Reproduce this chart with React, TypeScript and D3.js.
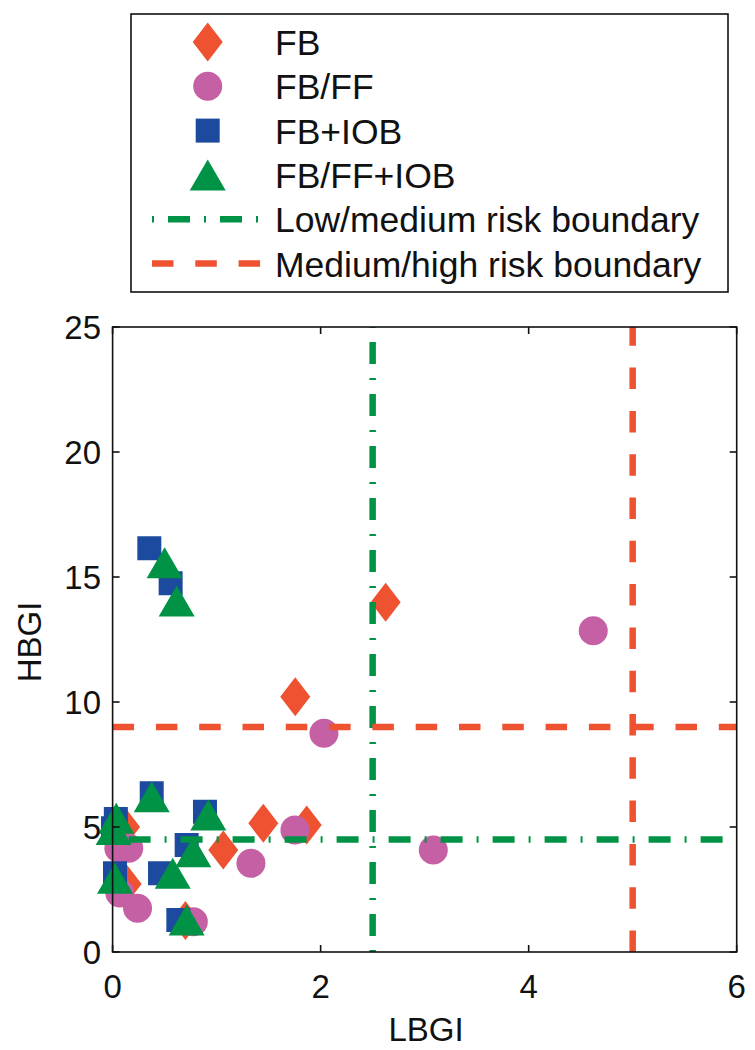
import React from "react";
import * as d3 from "d3";

// ---- Data ----
const fbX = [0.12, 0.135, 0.70, 1.064, 1.449, 1.866, 1.756, 2.625];
const fbY = [5.0, 2.72, 1.26, 4.08, 5.15, 5.08, 10.21, 13.99];

const ffX = [0.06, 0.155, 0.07, 0.24, 0.776, 1.33, 1.753, 2.032, 3.083, 4.621];
const ffY = [4.15, 4.15, 2.36, 1.75, 1.21, 3.55, 4.88, 8.75, 4.08, 12.85];

const iobX = [0.353, 0.558, 0.376, 0.031, 0.004, 0.888, 0.712, 0.023, 0.456, 0.632];
const iobY = [16.15, 14.75, 6.35, 5.32, 4.95, 5.61, 4.28, 3.15, 3.15, 1.28];

const ffiobX = [0.50, 0.616, 0.376, 0.035, 0.01, 0.92, 0.776, 0.023, 0.578, 0.712];
const ffiobY = [15.57, 14.04, 6.21, 5.35, 4.9, 5.48, 4.01, 2.95, 3.15, 1.28];

const lowMedLBGI = 2.5;
const lowMedHBGI = 4.5;
const medHighLBGI = 5;
const medHighHBGI = 9;

const xTicks = [0, 2, 4, 6];
const yTicks = [0, 5, 10, 15, 20, 25];

const legendLabels = [
  "FB",
  "FB/FF",
  "FB+IOB",
  "FB/FF+IOB",
  "Low/medium risk boundary",
  "Medium/high risk boundary",
];

const ORANGE = "#EE5230";
const PINK = "#C560A4";
const BLUE = "#1B4A9E";
const GREEN = "#009245";
const FONT = "'Liberation Sans', Arial, Helvetica, sans-serif";

const GREEN_DASH = "2,14,22,14";
const ORANGE_DASH = "21.5,21.8";

function diamondPath(cx: number, cy: number) {
  const w = 15, h = 19.5;
  return `M${cx},${cy - h}L${cx + w},${cy}L${cx},${cy + h}L${cx - w},${cy}Z`;
}
function trianglePath(cx: number, cy: number) {
  const w = 18, h = 15.5;
  return `M${cx},${cy - h}L${cx + w},${cy + h}L${cx - w},${cy + h}Z`;
}
function squarePath(cx: number, cy: number) {
  const s = 12;
  return `M${cx - s},${cy - s}h${2 * s}v${2 * s}h${-2 * s}Z`;
}

export default function App() {
  const x = d3.scaleLinear().domain([0, 6]).range([112.6, 736.7]);
  const y = d3.scaleLinear().domain([0, 25]).range([952, 327]);
  const [x0, x1] = x.range();
  const [y0, y1] = y.range();

  const legendY = (i: number) => 42 + 44.3 * i;
  const legMX = 207.7;

  return (
    <svg
      width={755}
      height={1050}
      style={{ position: "absolute", left: 0, top: 0, background: "#fff" }}
      fontFamily={FONT}
    >
      <rect x={0} y={0} width={755} height={1050} fill="#fff" />

      {/* markers */}
      <g>
        {fbX.map((v, i) => (
          <path key={"fb" + i} d={diamondPath(x(v), y(fbY[i]))} fill={ORANGE} />
        ))}
        {ffX.map((v, i) => (
          <circle key={"ff" + i} cx={x(v)} cy={y(ffY[i])} r={14.5} fill={PINK} />
        ))}
        {iobX.map((v, i) => (
          <path key={"iob" + i} d={squarePath(x(v), y(iobY[i]))} fill={BLUE} />
        ))}
        {ffiobX.map((v, i) => (
          <path key={"ffiob" + i} d={trianglePath(x(v), y(ffiobY[i]))} fill={GREEN} />
        ))}
      </g>

      {/* boundary lines */}
      <g fill="none" strokeWidth={6.5}>
        <line x1={x(lowMedLBGI)} x2={x(lowMedLBGI)} y1={y(0)} y2={y(25)} stroke={GREEN} strokeDasharray={GREEN_DASH} />
        <line x1={x(0)} x2={x(6)} y1={y(lowMedHBGI)} y2={y(lowMedHBGI)} stroke={GREEN} strokeDasharray={GREEN_DASH} />
        <line x1={x(medHighLBGI)} x2={x(medHighLBGI)} y1={y(0)} y2={y(25)} stroke={ORANGE} strokeDasharray={ORANGE_DASH} />
        <line x1={x(0)} x2={x(6)} y1={y(medHighHBGI)} y2={y(medHighHBGI)} stroke={ORANGE} strokeDasharray={ORANGE_DASH} />
      </g>

      {/* axes box */}
      <rect x={x0} y={y1} width={x1 - x0} height={y0 - y1} fill="none" stroke="#111" strokeWidth={1.6} />
      {xTicks.map((t) => (
        <g key={"xt" + t}>
          <line x1={x(t)} x2={x(t)} y1={y0} y2={y0 - 7} stroke="#111" strokeWidth={1.6} />
          <line x1={x(t)} x2={x(t)} y1={y1} y2={y1 + 7} stroke="#111" strokeWidth={1.6} />
          <text x={x(t)} y={998} textAnchor="middle" fontSize={33} fill="#111">{t}</text>
        </g>
      ))}
      {yTicks.map((t) => (
        <g key={"yt" + t}>
          <line x1={x0} x2={x0 + 7} y1={y(t)} y2={y(t)} stroke="#111" strokeWidth={1.6} />
          <line x1={x1} x2={x1 - 7} y1={y(t)} y2={y(t)} stroke="#111" strokeWidth={1.6} />
          <text x={101} y={y(t) + 12} textAnchor="end" fontSize={33} fill="#111">{t}</text>
        </g>
      ))}
      <text x={426} y={1041} textAnchor="middle" fontSize={33} fill="#111">LBGI</text>
      <text transform="translate(41,642) rotate(-90)" textAnchor="middle" fontSize={33} fill="#111">HBGI</text>

      {/* legend */}
      <rect x={131} y={14} width={597} height={278} fill="#fff" stroke="#111" strokeWidth={1.6} />
      <path d={diamondPath(legMX, legendY(0))} fill={ORANGE} />
      <circle cx={legMX} cy={legendY(1)} r={14.5} fill={PINK} />
      <path d={squarePath(legMX, legendY(2))} fill={BLUE} />
      <path d={trianglePath(legMX, legendY(3))} fill={GREEN} />
      <line x1={152} x2={261} y1={legendY(4)} y2={legendY(4)} stroke={GREEN} strokeWidth={6.5} strokeDasharray={GREEN_DASH} />
      <line x1={152} x2={261} y1={legendY(5)} y2={legendY(5)} stroke={ORANGE} strokeWidth={6.5} strokeDasharray={ORANGE_DASH} />
      {legendLabels.map((l, i) => (
        <text key={l} x={275} y={legendY(i) + 13} fontSize={35.5} fill="#111">{l}</text>
      ))}
    </svg>
  );
}
